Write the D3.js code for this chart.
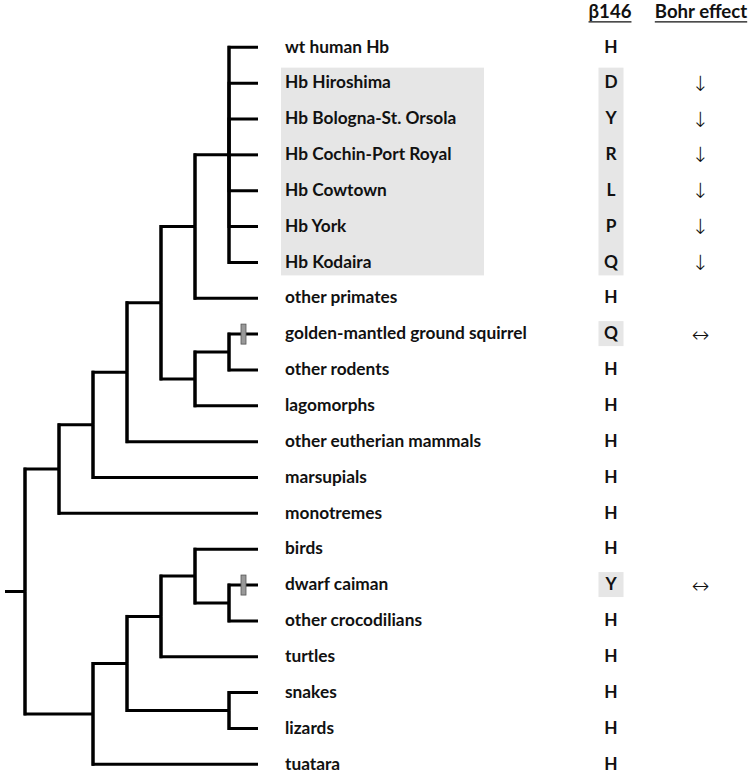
<!DOCTYPE html>
<html>
<head>
<meta charset="utf-8">
<script src="https://cdn.jsdelivr.net/npm/d3@7"></script>
<style>
  html, body { margin: 0; padding: 0; background: #fff; }
  svg { display: block; }
</style>
</head>
<body>
<svg id="chart" width="754" height="773"></svg>
<script>
// ---- data ----
const taxa = [
  "wt human Hb", "Hb Hiroshima", "Hb Bologna-St. Orsola", "Hb Cochin-Port Royal",
  "Hb Cowtown", "Hb York", "Hb Kodaira", "other primates",
  "golden-mantled ground squirrel", "other rodents", "lagomorphs",
  "other eutherian mammals", "marsupials", "monotremes", "birds",
  "dwarf caiman", "other crocodilians", "turtles", "snakes", "lizards", "tuatara"
];
const beta146 = ["H","D","Y","R","L","P","Q","H","Q","H","H","H","H","H","H","Y","H","H","H","H","H"];
const bohrEffect = ["","↓","↓","↓","↓","↓","↓","","↔","","","","","","","↔","","","","",""];
const variantRows = [1, 2, 3, 4, 5, 6];          // highlighted human Hb variants
const substitutionRows = [8, 15];                // independent β146 substitutions
// tree topology, leaves are indices into taxa
const tree = [
  [[[[[[0,1,2,3,4,5,6],7],[[8,9],10]],11],12],13],
  [[[[14,[15,16]],17],[18,19]],20]
];
const headers = ["β146", "Bohr effect"];

// ---- scales ----
const svg = d3.select("#chart");
const row = d3.scalePoint().domain(d3.range(taxa.length)).range([47.3, 764.3]);
const depth = d3.scaleLinear().domain([0, 1, 7]).range([258, 229, 25]);
const labelX = 285;
const betaX = 611;
const bohrX = 700.5;

const root = d3.hierarchy(tree, d => Array.isArray(d) ? d : null);
root.eachAfter(n => {
  if (n.children) n.y = d3.mean([n.children[0].y, n.children[n.children.length - 1].y]);
  else n.y = row(n.data);
  n.x = depth(n.height);
});

const font = "Lato, 'Open Sans', sans-serif";
const textY = i => row(i) - 1;

// ---- highlight backgrounds ----
const bandTop = row(d3.min(variantRows)) - 15.5;
const bandBot = row(d3.max(variantRows)) + 13;
svg.append("rect").attr("x", labelX - 4).attr("y", bandTop)
  .attr("width", 203).attr("height", bandBot - bandTop).attr("fill", "#e6e6e6");
svg.append("rect").attr("x", betaX - 12.5).attr("y", bandTop)
  .attr("width", 25).attr("height", bandBot - bandTop).attr("fill", "#e6e6e6");
svg.selectAll("rect.sub").data(substitutionRows).join("rect").attr("class", "sub")
  .attr("x", betaX - 12.5).attr("y", d => row(d) - 13)
  .attr("width", 25).attr("height", 25).attr("fill", "#e6e6e6");

// ---- tree ----
const g = svg.append("g").attr("fill", "none").attr("stroke", "#000").attr("stroke-width", 3);
g.selectAll("path.link").data(root.links()).join("path").attr("class", "link")
  .attr("d", l => `M${l.source.x},${l.source.y}V${l.target.y}H${l.target.x}`)
  .attr("stroke-linejoin", "miter");
g.selectAll("line.span").data(root.descendants().filter(n => n.children)).join("line")
  .attr("class", "span")
  .attr("x1", n => n.x).attr("x2", n => n.x)
  .attr("y1", n => n.children[0].y - 1.5).attr("y2", n => n.children[n.children.length - 1].y + 1.5);
g.append("line").attr("x1", root.x - 20).attr("x2", root.x).attr("y1", root.y).attr("y2", root.y);

// substitution markers
const leaves = root.leaves();
svg.selectAll("rect.mark").data(leaves.filter(l => substitutionRows.includes(l.data))).join("rect")
  .attr("class", "mark")
  .attr("x", l => (l.parent.x + l.x) / 2 - 2.5).attr("y", l => l.y - 10)
  .attr("width", 5).attr("height", 20)
  .attr("fill", "#999").attr("stroke", "#555").attr("stroke-width", 0.8);

// ---- labels ----
svg.selectAll("text.taxon").data(taxa).join("text").attr("class", "taxon")
  .attr("x", labelX).attr("y", (d, i) => textY(i)).attr("dy", "0.36em")
  .attr("font-family", font).attr("font-weight", 700).attr("font-size", 17.3)
  .attr("fill", "#111").text(d => d);

svg.selectAll("text.beta").data(beta146).join("text").attr("class", "beta")
  .attr("x", betaX).attr("y", (d, i) => textY(i)).attr("dy", "0.36em")
  .attr("text-anchor", "middle")
  .attr("font-family", font).attr("font-weight", 700).attr("font-size", 17.3)
  .attr("fill", "#111").text(d => d);

svg.selectAll("text.bohr").data(bohrEffect).join("text").attr("class", "bohr")
  .attr("x", bohrX).attr("y", (d, i) => row(i)).attr("dy", "0.36em")
  .attr("text-anchor", "middle")
  .attr("font-family", "'DejaVu Sans', sans-serif").attr("font-weight", 200).attr("font-size", 21)
  .attr("fill", "#111").text(d => d ? d + "\uFE0E" : "");

// ---- headers ----
const hx = [610, 701];
headers.forEach((h, i) => {
  const t = svg.append("text").attr("x", hx[i]).attr("y", 18.3)
    .attr("text-anchor", "middle")
    .attr("font-family", font).attr("font-weight", 700).attr("font-size", 18.6)
    .attr("fill", "#111").text(h);
  const w = t.node().getComputedTextLength();
  svg.append("line").attr("x1", hx[i] - w / 2).attr("x2", hx[i] + w / 2)
    .attr("y1", 21.8).attr("y2", 21.8).attr("stroke", "#111").attr("stroke-width", 1.3);
});
</script>
</body>
</html>
